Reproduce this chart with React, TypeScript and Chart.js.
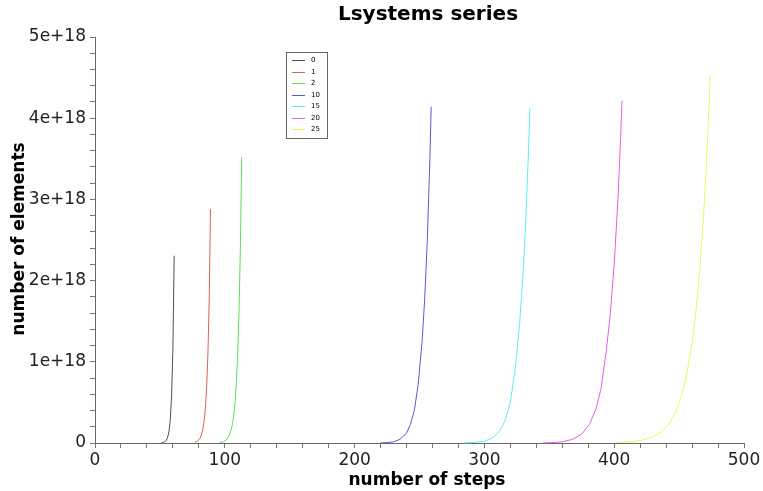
import React, { useEffect, useRef } from "react";
import { Chart, registerables } from "chart.js";

Chart.register(...registerables);

const chartTitle = "Lsystems series";
const xTitle = "number of steps";
const yTitle = "number of elements";

const seriesLabels = ["0", "1", "2", "10", "15", "20", "25"];

const steps0 = [51, 52, 53, 54, 55, 56, 57, 58, 59, 60, 61];
const values0 = [2.25e15, 4.5e15, 9.0e15, 1.8e16, 3.6e16, 7.2e16, 1.44e17, 2.88e17, 5.76e17, 1.153e18, 2.306e18];

const steps1 = [77, 79, 81, 82, 83, 84, 85, 86, 87, 88, 89];
const values1 = [9e15, 2.3e16, 6.1e16, 9.9e16, 1.6e17, 2.6e17, 4.2e17, 6.8e17, 1.1e18, 1.78e18, 2.88e18];

const steps2 = [96, 99, 101, 103, 105, 106, 107, 108, 109, 110, 111, 112, 113];
const values2 = [5.3e15, 1.67e16, 3.6e16, 7.7e16, 1.65e17, 2.42e17, 3.55e17, 5.21e17, 7.63e17, 1.12e18, 1.64e18, 2.4e18, 3.52e18];

const steps10 = [220, 225, 230, 235, 240, 243, 246, 249, 252, 254, 256, 258, 259];
const values10 = [1e15, 5e15, 1.5e16, 4.5e16, 1.2e17, 2.3e17, 4.0e17, 7.2e17, 1.25e18, 1.775e18, 2.49e18, 3.5e18, 4.14e18];

const steps15 = [284, 292, 300, 306, 312, 316, 320, 324, 327, 330, 332, 334, 335];
const values15 = [1e15, 6e15, 2.2e16, 6e16, 1.5e17, 2.8e17, 5.0e17, 9.5e17, 1.44e18, 2.14e18, 2.78e18, 3.61e18, 4.12e18];

const steps20 = [345, 352, 360, 368, 375, 381, 386, 390, 394, 397, 400, 403, 405, 406];
const values20 = [1e15, 4e15, 1.5e16, 4.5e16, 1.1e17, 2.3e17, 4.2e17, 6.8e17, 1.15e18, 1.59e18, 2.2e18, 3.04e18, 3.78e18, 4.215e18];

const steps25 = [402, 412, 422, 430, 436, 442, 447, 452, 456, 460, 463, 466, 469, 471, 473, 474];
const values25 = [5.6e15, 1.4e16, 3.6e16, 7.6e16, 1.32e17, 2.3e17, 3.67e17, 5.85e17, 8.5e17, 1.23e18, 1.625e18, 2.15e18, 2.84e18, 3.42e18, 4.12e18, 4.52e18];

const allSteps = [steps0, steps1, steps2, steps10, steps15, steps20, steps25];
const allValues = [values0, values1, values2, values10, values15, values20, values25];

const xMin = 0;
const xMax = 500;
const xStep = 20;
const xLabelEvery = 100;
const yMin = 0;
const yMax = 5e18;
const yStep = 2e17;

const colors = ["#505050", "#d86060", "#60dc60", "#5a5ad0", "#60eeee", "#e060e0", "#f2f260"];
const FONT = '"DejaVu Sans", sans-serif';

const overlayPlugin = {
  id: "overlayTexts",
  afterDraw(chart: any) {
    const ctx = chart.ctx;
    ctx.save();
    ctx.fillStyle = "#000";
    ctx.textAlign = "center";
    ctx.textBaseline = "alphabetic";
    ctx.font = `bold 20px ${FONT}`;
    ctx.fillText(chartTitle, 428, 20);
    ctx.font = `bold 17px ${FONT}`;
    ctx.fillText(xTitle, 427, 485);
    ctx.save();
    ctx.translate(24, 239);
    ctx.rotate(-Math.PI / 2);
    ctx.fillText(yTitle, 0, 0);
    ctx.restore();

    // legend box
    const bx = 286.5, by = 52.5, bw = 41, bh = 86;
    ctx.fillStyle = "#fff";
    ctx.fillRect(bx, by, bw, bh);
    ctx.strokeStyle = "#666";
    ctx.lineWidth = 1;
    ctx.strokeRect(bx, by, bw, bh);
    ctx.font = `7px ${FONT}`;
    ctx.textAlign = "left";
    ctx.textBaseline = "middle";
    chart.data.datasets.forEach((ds: any, i: number) => {
      const y = 60 + i * 11.5;
      ctx.strokeStyle = ds.borderColor;
      ctx.beginPath();
      ctx.moveTo(292, Math.round(y) + 0.5);
      ctx.lineTo(305, Math.round(y) + 0.5);
      ctx.stroke();
      ctx.fillStyle = "#000";
      ctx.fillText(ds.label, 311, y + 0.5);
    });
    ctx.restore();
  },
};

export default function App() {
  const ref = useRef<HTMLCanvasElement | null>(null);
  useEffect(() => {
    document.body.style.margin = "0";
    if (!ref.current) return;
    const datasets = seriesLabels.map((label, i) => ({
      label,
      data: allSteps[i].map((s, j) => ({ x: s, y: allValues[i][j] })),
      borderColor: colors[i],
      backgroundColor: colors[i],
      borderWidth: 1,
      pointRadius: 0,
      tension: 0,
      fill: false,
      clip: false as any,
    }));
    const chart = new Chart(ref.current, {
      type: "line",
      data: { datasets },
      plugins: [overlayPlugin],
      options: {
        animation: false,
        responsive: true,
        maintainAspectRatio: false,
        layout: { padding: { top: 37, right: 19, left: 0, bottom: 0 } },
        plugins: {
          legend: { display: false },
          title: { display: false },
          tooltip: { enabled: false },
        },
        scales: {
          x: {
            type: "linear",
            min: xMin,
            max: xMax,
            afterFit: (s: any) => {
              s.height = 48;
            },
            border: { display: true, color: "#666", width: 1 },
            grid: { display: true, drawOnChartArea: false, drawTicks: true, tickLength: 5, color: "#777" },
            ticks: {
              stepSize: xStep,
              maxTicksLimit: 100,
              autoSkip: false,
              maxRotation: 0,
              padding: 2,
              color: "#222",
              font: { family: FONT, size: 17 },
              callback: (v: any) => (Math.round(v) % xLabelEvery === 0 ? String(Math.round(v)) : ""),
            },
          },
          y: {
            type: "linear",
            min: yMin,
            max: yMax,
            afterFit: (s: any) => {
              s.width = 95;
            },
            border: { display: true, color: "#666", width: 1 },
            grid: { display: true, drawOnChartArea: false, drawTicks: true, tickLength: 5, color: "#777" },
            ticks: {
              stepSize: yStep,
              maxTicksLimit: 100,
              autoSkip: false,
              padding: 4,
              color: "#222",
              font: { family: FONT, size: 17 },
              callback: (v: any) => {
                const k = Math.round(v / 1e17);
                if (k % 10 !== 0) return "";
                const m = k / 10;
                return m === 0 ? "0" : `${m}e+18`;
              },
            },
          },
        },
      },
    });
    return () => chart.destroy();
  }, []);
  return (
    <div style={{ width: 763, height: 491, position: "relative" }}>
      <canvas ref={ref} />
    </div>
  );
}
